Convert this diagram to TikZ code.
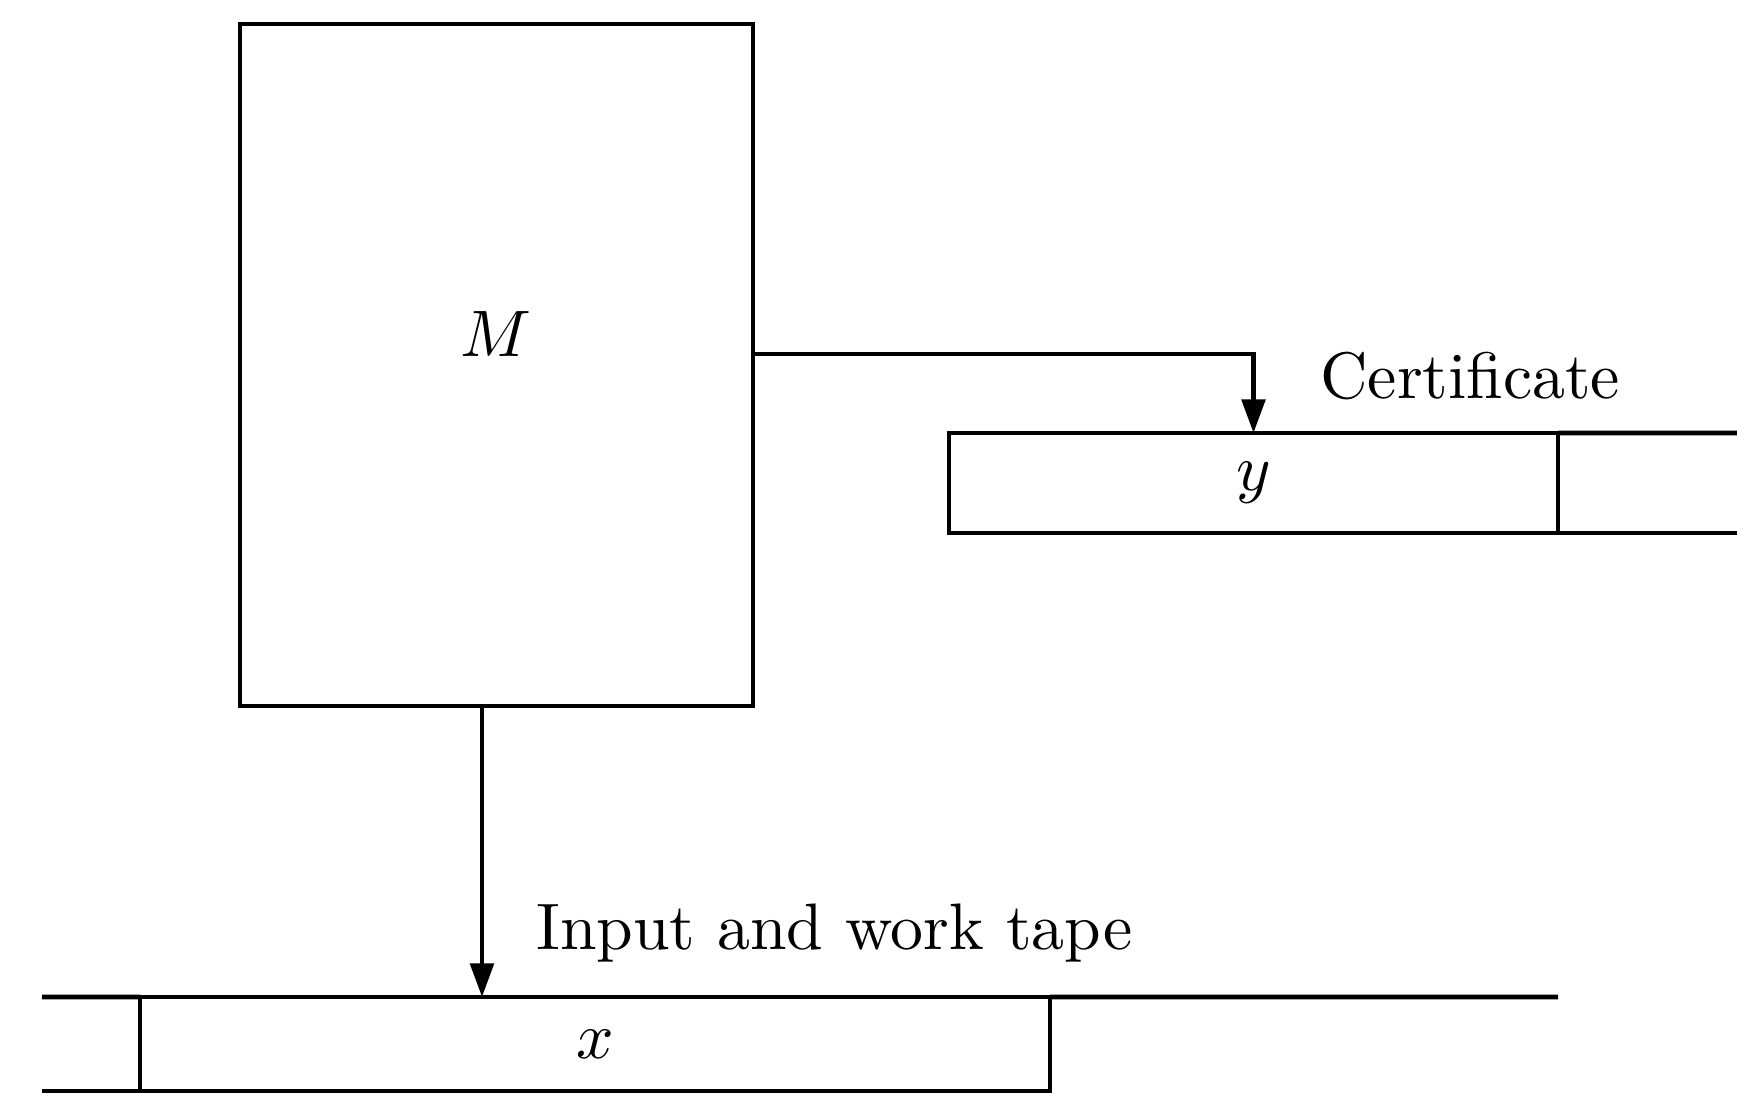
\documentclass[tikz,border=0pt]{standalone}
\usepackage{amsmath,amssymb}
\usepackage{tikz}
\usetikzlibrary{arrows.meta,positioning,calc}

\begin{document}
\begin{tikzpicture}[x=0.5343cm, y=0.5343cm, line width=0.7pt,
    machine/.style={draw,rectangle,minimum width=2.741cm,minimum height=3.644cm},
    cell/.style={draw,rectangle,inner sep=0pt,outer sep=0pt},
    tapelabel/.style={anchor=base west,inner sep=0pt},
    headarrow/.style={-{Triangle[length=1.8mm,width=1.25mm]}}]
  \useasboundingbox (0,0) rectangle (17.37,-10.94);
  % machine
  \node[machine] (M) at (4.965,-3.65) {};
  \node[anchor=base] (Mlabel) at (4.96,-3.57) {$M$};
  % certificate tape
  \node[cell,minimum width=3.254cm,minimum height=0.534cm] (ycell) at (12.535,-4.83) {\raisebox{0.7pt}{$y$}};
  \coordinate (certend) at (17.37,-4.33);
  \draw (ycell.north east) -- (certend);
  \draw (ycell.south east) -- (certend |- ycell.south);
  \draw[headarrow] ($(M.east)+(0,0.11)$) -| (ycell.north);
  \node[tapelabel] (certlabel) at (13.18,-3.99) {Certificate};
  % input and work tape
  \node[cell,minimum width=4.862cm,minimum height=0.502cm] (xcell) at (5.95,-10.44) {$x$};
  \coordinate (tapeleft) at (0.42,-9.97);
  \coordinate (taperight) at (15.58,-9.97);
  \draw (tapeleft) -- (xcell.north west);
  \draw (tapeleft |- xcell.south) -- (xcell.south west);
  \draw (xcell.north east) -- (taperight);
  \coordinate (head) at (4.82,-9.97);
  \draw[headarrow] (M.south -| head) -- (head);
  \node[tapelabel] (worklabel) at (5.34,-9.50) {Input and work tape};
\end{tikzpicture}
\end{document}
